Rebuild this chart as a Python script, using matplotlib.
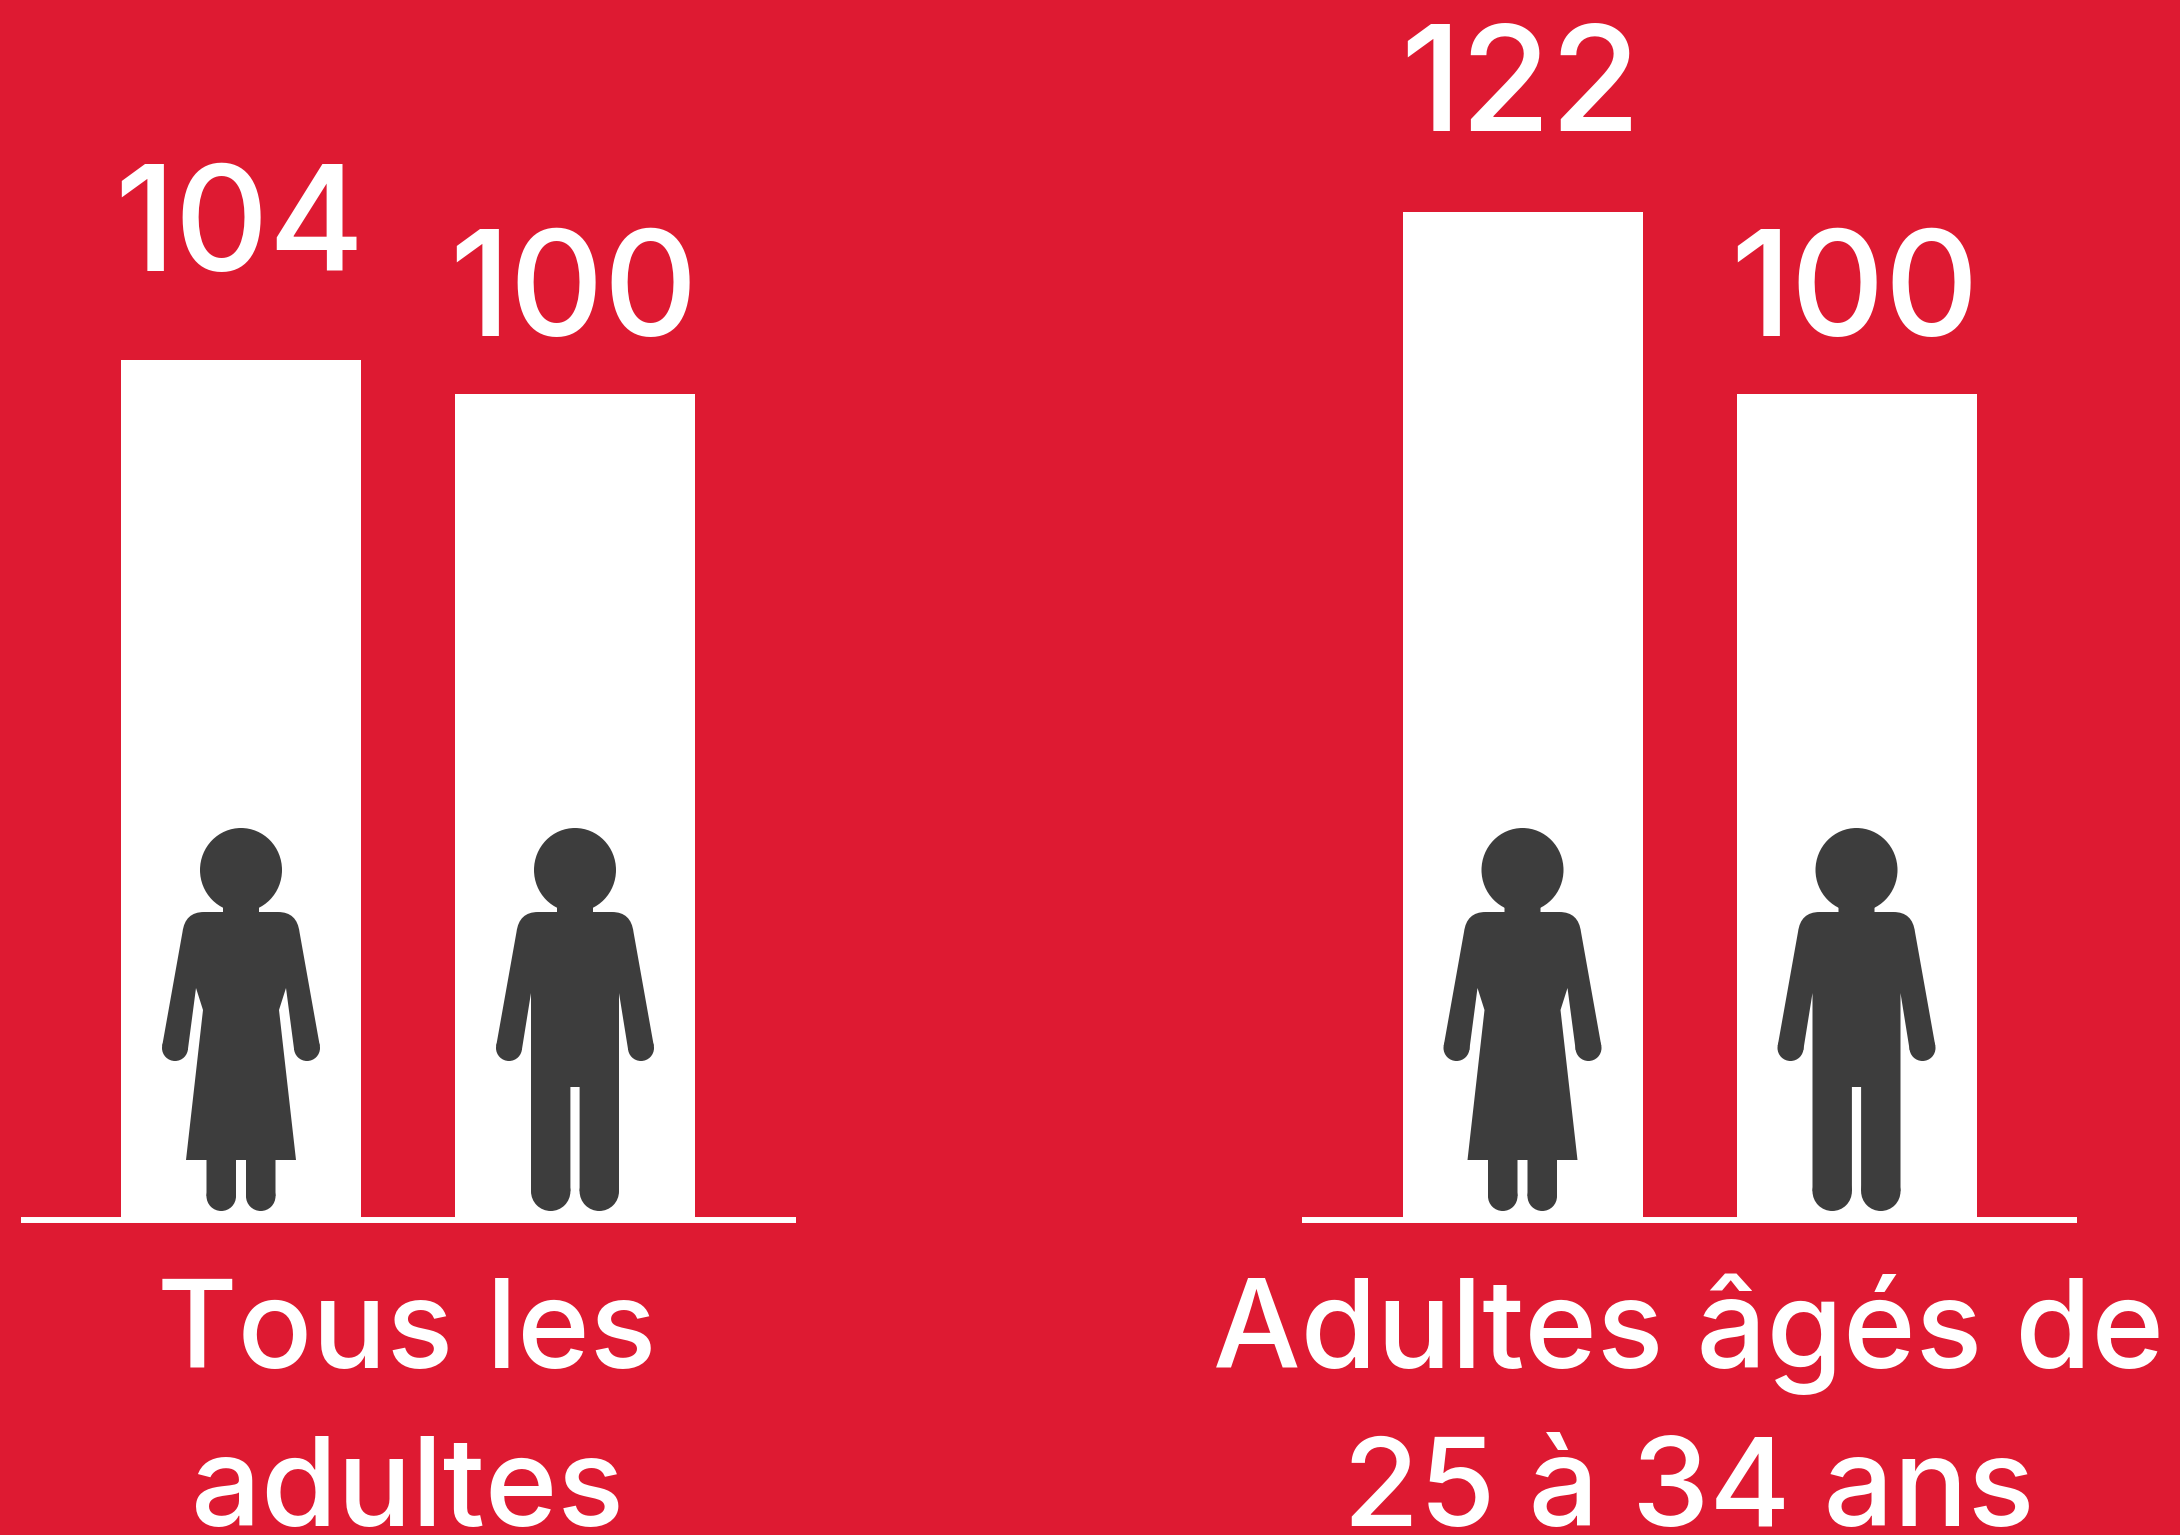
import matplotlib
matplotlib.use("Agg")
import matplotlib.pyplot as plt
from matplotlib.patches import Ellipse, Circle, PathPatch
from matplotlib.path import Path
from matplotlib.transforms import Affine2D

# data
groups = [["Tous les", "adultes"], ["Adultes âgés de", "25 à 34 ans"]]
women = [104, 122]
men = [100, 100]

# colours
RED = "#DE1A32"
DARK = "#3D3D3D"
FONT = "Inter"

# layout in pixels of the final image
W, H = 2180, 1535
BASE_Y = 1220
PX_PER_UNIT = 8.265
groupCenters = [408, 1689.5]
barOffset = 167
barWidth = 240
lineHalf = 387.5
womanLabelGap = [89, 81]
manLabelGap = [57.5, 57.5]

fig = plt.figure(figsize=(W / 100, H / 100), dpi=100, facecolor=RED)

# the value axes: y=0 sits on the baseline
ax = fig.add_axes([0, 0, 1, 1])
ax.set_xlim(0, W)
ax.set_ylim(-(H - BASE_Y) / PX_PER_UNIT, BASE_Y / PX_PER_UNIT)
ax.axis("off")

# overlay in pixels for the pictograms
pic = fig.add_axes([0, 0, 1, 1])
pic.set_xlim(0, W)
pic.set_ylim(H, 0)
pic.axis("off")
pic.patch.set_alpha(0)


def half_outline(s, armpit, waist, hem, legOuter, legInner, crotchY, footY):
    # one side of the figure from the neck to the crotch
    v = [(s * 18, 905), (s * 18, 912), (s * 37, 912), (s * 56, 912), (s * 58.5, 932),
         (s * 78.8, 1045.8), (s * 53.2, 1050.2), (s * armpit[0], armpit[1])]
    c = [Path.LINETO, Path.LINETO, Path.LINETO, Path.CURVE3, Path.CURVE3,
         Path.LINETO, Path.LINETO, Path.LINETO]
    if waist:
        v.append((s * waist[0], waist[1]))
        c.append(Path.LINETO)
    if hem:
        v += [(s * hem, 1160), (s * legOuter, 1160)]
        c += [Path.LINETO, Path.LINETO]
    v += [(s * legOuter, footY), (s * legInner, footY), (s * legInner, crotchY)]
    c += [Path.LINETO, Path.LINETO, Path.LINETO]
    return v, c


def draw_person(cx, armpit, waist, hem, legOuter, legInner, crotchY):
    legR = (legOuter - legInner) / 2
    footY = 1211 - legR
    rv, rc = half_outline(1, armpit, waist, hem, legOuter, legInner, crotchY, footY)
    lv, lc = half_outline(-1, armpit, waist, hem, legOuter, legInner, crotchY, footY)
    # down the right side, then back up the left side
    backCodes = [lc[i + 1] if i + 1 < len(lc) else Path.LINETO for i in range(len(lv))][::-1]
    verts = rv + lv[::-1]
    codes = [Path.MOVETO] + rc[1:] + backCodes
    tr = Affine2D().translate(cx, 0) + pic.transData
    pic.add_patch(PathPatch(Path(verts, codes), fc=DARK, ec="none", transform=tr))
    pic.add_patch(Ellipse((0, 870), 82, 84, fc=DARK, ec="none", transform=tr))
    for s in (-1, 1):
        pic.add_patch(Circle((s * 66, 1048), 13, fc=DARK, ec="none", transform=tr))
        pic.add_patch(Circle((s * (legOuter + legInner) / 2, footY), legR, fc=DARK, ec="none", transform=tr))


for i, center in enumerate(groupCenters):
    xs = [center - barOffset, center + barOffset]
    vals = [women[i], men[i]]
    gaps = [womanLabelGap[i], manLabelGap[i]]
    ax.bar(xs, vals, width=barWidth, color="white", linewidth=0)
    ax.plot([center - lineHalf, center + lineHalf], [0, 0], color="white", lw=4.3, solid_capstyle="butt")

    for x, val, gap in zip(xs, vals, gaps):
        pic.text(x - 2, BASE_Y - val * PX_PER_UNIT - gap, str(val), color="white", family=FONT,
                 fontsize=105, weight=500, ha="center", va="baseline")

    draw_person(xs[0], (45, 988), (38, 1010), 55, 34.5, 5, 1160)
    draw_person(xs[1], (44, 993), None, None, 44, 4.6, 1087)

    for line, y in zip(groups[i], [1368, 1526]):
        pic.text(center - 1, y, line, color="white", family=FONT, fontsize=89, weight=500, ha="center", va="baseline")

fig.savefig("out.png", dpi=100, facecolor=RED)
